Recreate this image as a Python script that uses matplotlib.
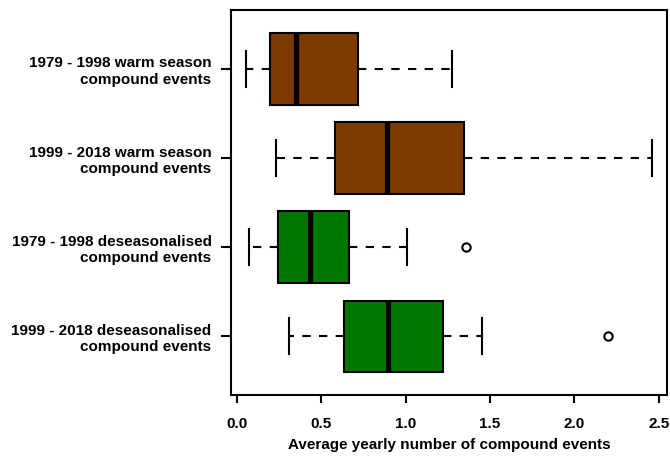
import matplotlib
matplotlib.use("Agg")
import matplotlib.pyplot as plt

plt.rcParams['font.family'] = ['Liberation Sans', 'DejaVu Sans']

labels = [
    "1979 - 1998 warm season\ncompound events",
    "1999 - 2018 warm season\ncompound events",
    "1979 - 1998 deseasonalised\ncompound events",
    "1999 - 2018 deseasonalised\ncompound events",
]
whislo = [0.053, 0.231, 0.073, 0.310]
q1 = [0.197, 0.582, 0.247, 0.637]
med = [0.349, 0.889, 0.436, 0.894]
q3 = [0.717, 1.345, 0.667, 1.220]
whishi = [1.277, 2.462, 1.011, 1.451]
fliers = [[], [], [1.360], [2.200]]
colors = ["#7F3A00", "#7F3A00", "#007800", "#007800"]

stats = []
for i in range(len(labels)):
    stats.append({
        'whislo': whislo[i], 'q1': q1[i], 'med': med[i],
        'q3': q3[i], 'whishi': whishi[i], 'fliers': fliers[i],
    })

positions = list(range(len(labels), 0, -1))

fig = plt.figure(figsize=(6.7, 4.62), dpi=100)
ax = fig.add_axes([0.3448, 0.145, 0.9955 - 0.3448, 0.978 - 0.145])

bp = ax.bxp(
    stats, positions=positions, widths=0.8, capwidths=0.4,
    orientation='horizontal', patch_artist=True, showfliers=True,
    boxprops=dict(edgecolor='black', linewidth=1.5),
    medianprops=dict(color='black', linewidth=3.8, solid_capstyle='butt'),
    whiskerprops=dict(color='black', linewidth=1.5, linestyle=(0, (4, 4))),
    capprops=dict(color='black', linewidth=1.5),
    flierprops=dict(marker='o', markerfacecolor='white', markeredgecolor='black',
                    markersize=6, markeredgewidth=1.5, linestyle='none'),
)
for patch, c in zip(bp['boxes'], colors):
    patch.set_facecolor(c)

ax.set_xlim(-0.034, 2.549)
ax.set_ylim(0.34, 4.66)
ax.set_xticks([0.0, 0.5, 1.0, 1.5, 2.0, 2.5])
ax.set_xticklabels(["0.0", "0.5", "1.0", "1.5", "2.0", "2.5"], fontweight='bold', fontsize=11)
ax.set_yticks(positions)
ax.set_yticklabels(labels, fontweight='bold', fontsize=11, ha='right', linespacing=1.25)
ax.tick_params(axis='x', length=6, width=1.5, pad=10)
ax.tick_params(axis='y', length=7, width=1.5, pad=7)
for s in ax.spines.values():
    s.set_linewidth(1.5)
ax.set_xlabel("Average yearly number of compound events", fontweight='bold', fontsize=11, labelpad=5)

fig.savefig("out.png", dpi=100)
